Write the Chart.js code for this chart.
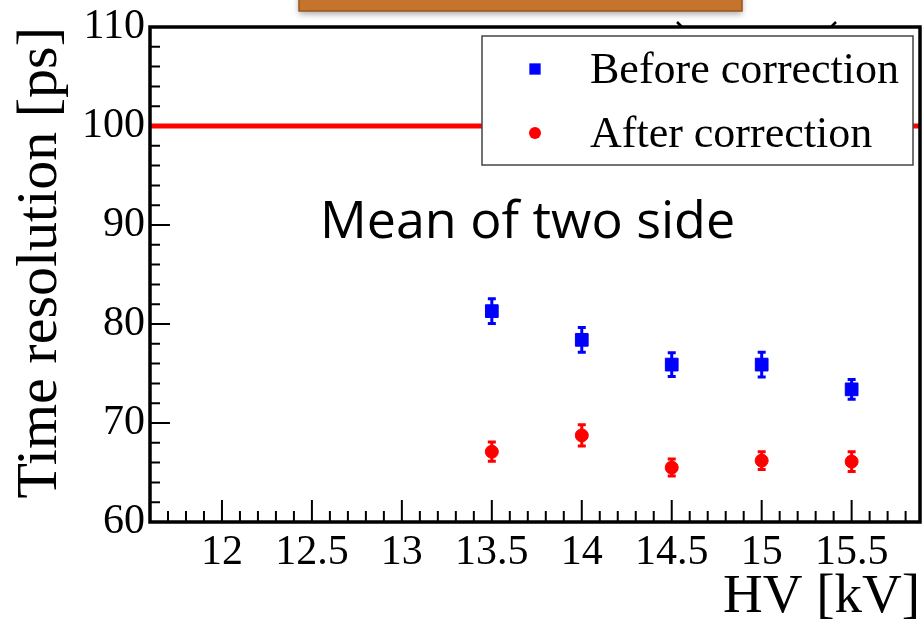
<!DOCTYPE html>
<html>
<head>
<meta charset="utf-8">
<script src="https://cdn.jsdelivr.net/npm/chart.js@4.4.0/dist/chart.umd.min.js"></script>
<style>
  html, body { margin: 0; background: #fff; overflow: hidden; }
  #wrap { width: 923px; height: 625px; position: relative; }
</style>
</head>
<body>
<div id="wrap"><canvas id="chart"></canvas></div>
<script>
// data
const hvValues = [13.5, 14, 14.5, 15, 15.5]
const beforeValues = [81.3, 78.4, 75.9, 75.9, 73.4]
const beforeErrors = [1.35, 1.35, 1.3, 1.35, 1.1]
const afterValues = [67.1, 68.75, 65.5, 66.2, 66.1]
const afterErrors = [1.07, 1.18, 0.96, 1.0, 1.1]
const xTickValues = [12, 12.5, 13, 13.5, 14, 14.5, 15, 15.5]
const yTickValues = [60, 70, 80, 90, 100, 110]
const referenceLevel = 100
const xRange = [11.6, 15.88]
const yRange = [60, 110]

const serif = '"Liberation Serif", "Times New Roman", serif'

const toPoints = (xs, ys) => xs.map((x, i) => ({ x, y: ys[i] }))

// ROOT style inward ticks (drawn under the data so the red line covers them)
const axisTicks = {
  id: 'axisTicks',
  beforeDatasetsDraw(chart) {
    const { ctx, chartArea: a, scales: { x, y } } = chart
    ctx.save()
    ctx.strokeStyle = '#000'
    ctx.lineWidth = 2
    ctx.beginPath()
    for (let k = Math.ceil(xRange[0] * 10); k <= Math.floor(xRange[1] * 10); k++) {
      const px = x.getPixelForValue(k / 10)
      const len = k % 5 === 0 ? 22 : 11
      ctx.moveTo(px, a.bottom)
      ctx.lineTo(px, a.bottom - len)
    }
    for (let v = yRange[0] + 2; v < yRange[1]; v += 2) {
      const py = y.getPixelForValue(v)
      const len = v % 10 === 0 ? 20 : 10
      ctx.moveTo(a.left, py)
      ctx.lineTo(a.left + len, py)
    }
    ctx.stroke()
    ctx.restore()
  }
}

// vertical error bars with small caps
const errorBars = {
  id: 'errorBars',
  afterDatasetsDraw(chart) {
    const { ctx, scales: { y } } = chart
    chart.data.datasets.forEach((ds, i) => {
      if (!ds.errors) return
      const meta = chart.getDatasetMeta(i)
      ctx.save()
      ctx.strokeStyle = ds.backgroundColor
      ctx.lineWidth = 3
      meta.data.forEach((pt, j) => {
        const v = ds.data[j].y
        const top = y.getPixelForValue(v + ds.errors[j])
        const bot = y.getPixelForValue(v - ds.errors[j])
        ctx.beginPath()
        ctx.moveTo(pt.x, top)
        ctx.lineTo(pt.x, bot)
        ctx.moveTo(pt.x - 4, top + 1)
        ctx.lineTo(pt.x + 4, top + 1)
        ctx.moveTo(pt.x - 4, bot - 1)
        ctx.lineTo(pt.x + 4, bot - 1)
        ctx.stroke()
      })
      ctx.restore()
    })
  }
}

const frame = {
  id: 'frame',
  afterDatasetsDraw(chart) {
    const { ctx, chartArea: a } = chart
    ctx.save()
    ctx.strokeStyle = '#000'
    ctx.lineWidth = 3.5
    ctx.strokeRect(a.left, a.top, a.right - a.left, a.bottom - a.top)
    ctx.restore()
  }
}

// legend box + slide annotation
const overlay = {
  id: 'overlay',
  afterDatasetsDraw(chart) {
    const { ctx } = chart
    ctx.save()
    ctx.fillStyle = '#fff'
    ctx.fillRect(482, 36, 431, 129)
    ctx.strokeStyle = '#444'
    ctx.lineWidth = 1.5
    ctx.strokeRect(482, 36, 431, 129)

    const rows = [chart.data.datasets[1], chart.data.datasets[2]]
    rows.forEach((ds, i) => {
      const cy = 69 + i * 64
      ctx.fillStyle = ds.backgroundColor
      Chart.helpers.drawPoint(ctx, {
        pointStyle: ds.pointStyle, radius: ds.pointStyle === 'rect' ? 8 : 6, rotation: 0, borderWidth: 0
      }, 535, cy)
      ctx.fillStyle = '#000'
      ctx.font = '44px ' + serif
      ctx.textBaseline = 'middle'
      ctx.textAlign = 'left'
      ctx.fillText(ds.label, 590, cy + 2)
    })

    ctx.font = '52px "Open Sans", sans-serif'
    ctx.textBaseline = 'alphabetic'
    ctx.fillText('Mean of two side', 320, 238)
    ctx.restore()
  },
  afterDraw(chart) {
    const { ctx } = chart
    ctx.save()
    ctx.shadowColor = 'rgba(0,0,0,0.35)'
    ctx.shadowBlur = 6
    ctx.shadowOffsetY = 3
    ctx.fillStyle = '#c5742e'
    ctx.fillRect(299, -6, 443, 17)
    ctx.shadowColor = 'transparent'
    ctx.strokeStyle = '#9a5520'
    ctx.lineWidth = 1.5
    ctx.strokeRect(299, -6, 443, 17)
    // clipped glyph fragments from the slide text above the frame
    ctx.strokeStyle = '#000'
    ctx.lineWidth = 2.5
    ctx.beginPath()
    ctx.moveTo(677, 22)
    ctx.lineTo(682, 27)
    ctx.moveTo(836, 22)
    ctx.lineTo(831, 27)
    ctx.stroke()
    ctx.restore()
  }
}

new Chart(document.getElementById('chart'), {
  type: 'scatter',
  data: {
    datasets: [
      {
        type: 'line',
        label: 'limit',
        data: toPoints(xRange, [referenceLevel, referenceLevel]),
        borderColor: '#ff0000',
        borderWidth: 5,
        pointRadius: 0,
        order: 3
      },
      {
        label: 'Before correction',
        data: toPoints(hvValues, beforeValues),
        errors: beforeErrors,
        backgroundColor: '#0000ff',
        borderColor: '#0000ff',
        borderWidth: 1,
        pointStyle: 'rect',
        pointRadius: 9,
        order: 1
      },
      {
        label: 'After correction',
        data: toPoints(hvValues, afterValues),
        errors: afterErrors,
        backgroundColor: '#ff0000',
        borderColor: '#ff0000',
        borderWidth: 1,
        pointStyle: 'circle',
        pointRadius: 6.5,
        order: 2
      }
    ]
  },
  options: {
    responsive: true,
    maintainAspectRatio: false,
    animation: false,
    layout: { autoPadding: false, padding: { top: 27, right: 3, left: 0, bottom: 0 } },
    plugins: {
      legend: { display: false },
      tooltip: { enabled: false }
    },
    scales: {
      x: {
        type: 'linear',
        min: xRange[0],
        max: xRange[1],
        afterBuildTicks: (scale) => { scale.ticks = xTickValues.map(value => ({ value })) },
        afterFit: (scale) => {
          scale.height = 103
          scale.paddingLeft = 0
          scale.paddingRight = 0
        },
        grid: { display: false, drawTicks: false },
        border: { display: false },
        ticks: {
          padding: 6,
          maxRotation: 0,
          autoSkip: false,
          color: '#000',
          font: { family: serif, size: 42 },
          callback: (value) => String(value)
        },
        title: {
          display: true,
          text: 'HV [kV]',
          align: 'end',
          color: '#000',
          padding: 0,
          font: { family: serif, size: 55, lineHeight: 1 }
        }
      },
      y: {
        type: 'linear',
        min: yRange[0],
        max: yRange[1],
        afterBuildTicks: (scale) => { scale.ticks = yTickValues.map(value => ({ value })) },
        afterFit: (scale) => {
          scale.width = 150
          scale.paddingTop = 0
          scale.paddingBottom = 0
        },
        grid: { display: false, drawTicks: false },
        border: { display: false },
        ticks: {
          padding: 5,
          color: '#000',
          font: { family: serif, size: 42 }
        },
        title: {
          display: true,
          text: 'Time resolution [ps]',
          align: 'end',
          color: '#000',
          padding: { top: 6, bottom: 0 },
          font: { family: serif, size: 58 }
        }
      }
    }
  },
  plugins: [axisTicks, errorBars, frame, overlay]
})
</script>
</body>
</html>
